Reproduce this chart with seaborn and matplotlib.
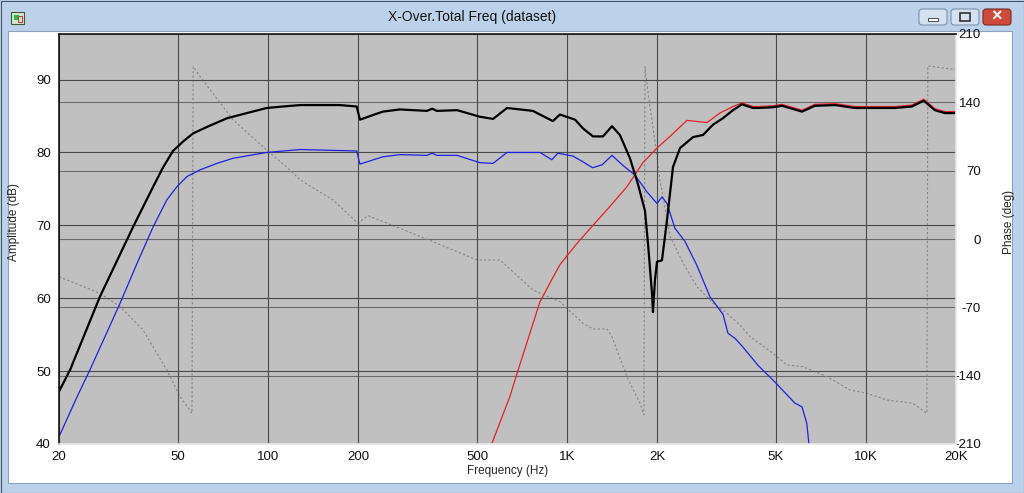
import matplotlib
matplotlib.use("Agg")
import matplotlib.pyplot as plt
from matplotlib.patches import Rectangle, FancyBboxPatch
from matplotlib.colors import LinearSegmentedColormap
from matplotlib.ticker import NullLocator
import seaborn as sns
import numpy as np

# x axis
freq_ticks = [20, 50, 100, 200, 500, 1000, 2000, 5000, 10000, 20000]
freq_labels = ["20", "50", "100", "200", "500", "1K", "2K", "5K", "10K", "20K"]
db_ticks = [40, 50, 60, 70, 80, 90]
phase_ticks = [-210, -140, -70, 0, 70, 140, 210]

# total response (black)
total_freq = [20, 21.8, 27.4, 35.4, 41.3, 44.5, 48.1, 52, 56.1, 62.5, 73, 85, 99, 112, 128, 174, 198,
              203, 242, 276, 340, 354, 367, 429, 511, 566, 630, 769, 897, 947, 1064, 1131, 1222,
              1319, 1414, 1503, 1624, 1726, 1823, 1866, 1924, 1939, 1969, 2000, 2078, 2160, 2262,
              2388, 2638, 2851, 3077, 3324, 3590, 3846, 4188, 4386, 4885, 5236, 6110, 6746, 7872,
              9180, 12500, 14230, 15600, 16990, 18360, 20000]
total_db = [47.2, 50.2, 60.2, 69.8, 75.3, 77.9, 80.2, 81.5, 82.6, 83.5, 84.7, 85.4, 86.1, 86.3, 86.5, 86.5, 86.3,
            84.5, 85.6, 85.9, 85.7, 86.0, 85.7, 85.8, 84.9, 84.6, 86.1, 85.7, 84.3, 85.2, 84.5, 83.3, 82.2,
            82.2, 83.6, 82.4, 79.2, 75.7, 72.0, 67.5, 60.7, 58.1, 62.5, 65.0, 65.2, 70.7, 78.0,
            80.6, 82.1, 82.4, 83.8, 84.7, 85.8, 86.6, 86.1, 86.1, 86.2, 86.4, 85.6, 86.4, 86.5,
            86.1, 86.1, 86.3, 87.1, 85.8, 85.4, 85.4]

# woofer (blue)
woofer_freq = [20, 23.0, 25.4, 32, 36.5, 41.3, 45.9, 49.6, 53.6, 59.2, 67.5, 76.4, 87, 99, 128, 198, 203,
               242, 276, 340, 354, 367, 429, 511, 566, 630, 812, 890, 932, 1047, 1122, 1217, 1310,
               1414, 1540, 1688, 1850, 2000, 2078, 2160, 2296, 2480, 2720, 3006, 3324, 3454, 3646,
               3876, 4352, 4960, 5785, 6110, 6340, 6440]
woofer_db = [41.0, 46.5, 50.2, 59.3, 64.8, 69.8, 73.5, 75.3, 76.7, 77.6, 78.5, 79.2, 79.6, 80.0, 80.4, 80.2, 78.4,
             79.4, 79.7, 79.6, 79.9, 79.6, 79.6, 78.6, 78.5, 80.0, 80.0, 79.0, 79.9, 79.5, 78.8, 77.9, 78.3,
             79.6, 78.2, 76.9, 74.6, 73.0, 73.9, 73.0, 69.6, 67.8, 64.5, 60.2, 57.8, 55.2, 54.5,
             53.3, 50.8, 48.5, 45.6, 45.1, 42.8, 40.1]

# tweeter (red)
tweeter_freq = [560, 644, 687, 812, 888, 947, 1079, 1222, 1392, 1587, 1795, 2000, 2210, 2518, 2938,
                3246, 3590, 3846, 4188, 4386, 4885, 5236, 6110, 6746, 7872, 9180, 12500, 14230,
                15600, 16990, 18360, 20000]
tweeter_db = [40.0, 46.5, 50.2, 59.5, 62.5, 64.6, 67.5, 70.0, 72.6, 75.3, 78.6, 80.6, 82.2, 84.4, 84.1,
              85.4, 86.3, 86.8, 86.3, 86.3, 86.4, 86.6, 85.8, 86.6, 86.7, 86.3, 86.3, 86.5,
              87.3, 86.0, 85.6, 85.6]

# phase (gray dotted, right axis)
phase_freq = [20, 27.4, 32, 38.2, 45.9, 50.8, 55.7, 56.2, 59.2, 76.4, 99, 118.4, 128, 165, 200, 216,
              276, 356, 500, 597, 769, 947, 998, 1131, 1222, 1360, 1414, 1587, 1754, 1808, 1823,
              1866, 1969, 2046, 2160, 2210, 2443, 2720, 3077, 3428, 3786, 4092, 4885, 5436, 6152,
              7400, 8834, 10070, 11746, 14350, 15980, 16100, 19370, 20000]
phase_deg = [-38.6, -55.6, -69.3, -93.2, -134.2, -161.5, -178.5, 176.6, 166.6, 122, 91.2, 70.7, 60.5, 40, 16.1, 24,
             11, -2.7, -21.5, -21.5, -52.2, -64.2, -71, -86.3, -92.2, -92.2, -100, -141, -168.3, -180, 176.6,
             150, 100, 60, 22, 3, -24.5, -48.8, -65.5, -76.1, -88, -100, -117, -129, -130.8,
             -141, -154.7, -158, -164.9, -168.3, -178.5, 177.3, 174, 174]


def draw_window(fig):
    # window frame drawn in pixel units
    bg = fig.add_axes([0, 0, 1, 1])
    bg.set_zorder(-10)
    bg.axis('off')
    bg.add_patch(Rectangle((0, 0), 1024, 493, facecolor='#bcd2ea', edgecolor='none'))
    cmap = LinearSegmentedColormap.from_list('title', ['#e3ecf7', '#c6d8ec'])
    bg.imshow(np.linspace(0, 1, 32)[:, None], extent=(0, 1024, 31, 0), cmap=cmap, aspect='auto')
    bg.add_patch(Rectangle((8, 31), 1004, 452, facecolor='white', edgecolor='#8aa2bd', lw=0.8))
    bg.add_patch(Rectangle((0.5, 0.5), 1023, 492, fill=False, edgecolor='#4a5563', lw=0.8))
    # icon
    bg.add_patch(Rectangle((11, 12), 13, 12, facecolor='#d8e6d0', edgecolor='#3a5a3a', lw=0.8))
    bg.add_patch(Rectangle((14, 15), 5, 5, facecolor='#2db84a', edgecolor='none'))
    bg.add_patch(Rectangle((18, 16), 4, 6, fill=False, edgecolor='#c04030', lw=0.8))
    # buttons
    for x0, face, edge in [(919, '#d3e1f0', '#7d92ab'), (951, '#d3e1f0', '#7d92ab'),
                           (983, '#cf4a3a', '#7a2a22')]:
        bg.add_patch(FancyBboxPatch((x0, 9), 28, 16, boxstyle='round,pad=0,rounding_size=3',
                                    facecolor=face, edgecolor=edge, lw=0.8))
    bg.add_patch(Rectangle((928, 18), 10, 2.5, facecolor='#ffffff', edgecolor='#333333', lw=0.6))
    bg.add_patch(Rectangle((960, 13), 10, 8, fill=False, edgecolor='#333333', lw=1.2))
    bg.text(997, 17, '\u00d7', color='white', fontsize=13, fontweight='bold', ha='center', va='center')
    bg.text(472, 17, 'X-Over.Total Freq (dataset)', fontsize=10, color='#101010',
            ha='center', va='center')
    bg.set_xlim(0, 1024)
    bg.set_ylim(493, 0)


def main():
    sns.set_theme(style="white")
    plt.rcParams['font.family'] = ['Liberation Sans', 'DejaVu Sans']
    plt.rcParams['axes.unicode_minus'] = False

    fig = plt.figure(figsize=(10.24, 4.93), dpi=100)
    fig.patch.set_facecolor('white')
    draw_window(fig)

    ax = fig.add_axes([59 / 1024, 49 / 493, 897 / 1024, 410 / 493])
    ax2 = ax.twinx()
    ax.set_zorder(ax2.get_zorder() + 1)
    ax.patch.set_visible(False)
    ax2.patch.set_visible(True)
    ax2.patch.set_facecolor('#c0c0c0')

    # phase on right axis
    sns.lineplot(x=phase_freq, y=phase_deg, ax=ax2, sort=False, estimator=None,
                 color='#858585', lw=0.8, linestyle=(0, (2, 2)), legend=False)

    # amplitudes on left axis
    sns.lineplot(x=woofer_freq, y=woofer_db, ax=ax, sort=False, estimator=None,
                 color='#2020e0', lw=0.9, legend=False)
    sns.lineplot(x=tweeter_freq, y=tweeter_db, ax=ax, sort=False, estimator=None,
                 color='#e81e2a', lw=0.9, legend=False)
    sns.lineplot(x=total_freq, y=total_db, ax=ax, sort=False, estimator=None,
                 color='black', lw=1.6, legend=False)

    ax.set_xscale('log')
    ax.set_xlim(20, 20000)
    ax.set_ylim(40, 96.25)
    ax2.set_ylim(-210, 210)

    ax.set_xticks(freq_ticks)
    ax.set_xticklabels(freq_labels)
    ax.xaxis.set_minor_locator(NullLocator())
    ax.set_yticks(db_ticks)
    ax2.set_yticks(phase_ticks)

    ax.tick_params(axis='x', length=0, pad=5, labelsize=9.5, colors='#111111')
    ax.tick_params(axis='y', length=0, pad=6, labelsize=9.5, colors='#111111')
    ax2.tick_params(axis='y', length=0, pad=18, labelsize=9.5, colors='#111111')
    for lab in ax2.get_yticklabels():
        lab.set_horizontalalignment('right')

    ax.grid(True, axis='both', color='#4a4a4a', lw=0.8)
    ax2.grid(True, axis='y', color='#6c6c6c', lw=0.8)
    ax2.grid(False, axis='x')

    ax.set_xlabel('Frequency (Hz)', fontsize=8.5)
    ax.set_ylabel('Amplitude (dB)', fontsize=8.5)
    ax2.set_ylabel('Phase (deg)', fontsize=8.5, rotation=90)
    ax.yaxis.set_label_coords(-0.0435, 0.541)
    ax2.yaxis.set_label_coords(1.052, 0.541)
    ax.xaxis.set_label_coords(0.5, -0.052)

    for a in (ax, ax2):
        for side in a.spines.values():
            side.set_visible(False)
    for name in ('left', 'top', 'bottom', 'right'):
        ax.spines[name].set_visible(True)
        ax.spines[name].set_linewidth(1.2)
    ax.spines['left'].set_color('#151515')
    ax.spines['top'].set_color('#151515')
    ax.spines['bottom'].set_color('#e8e8e8')
    ax.spines['right'].set_color('#e8e8e8')

    fig.savefig('out.png', dpi=100)


if __name__ == "__main__":
    main()
